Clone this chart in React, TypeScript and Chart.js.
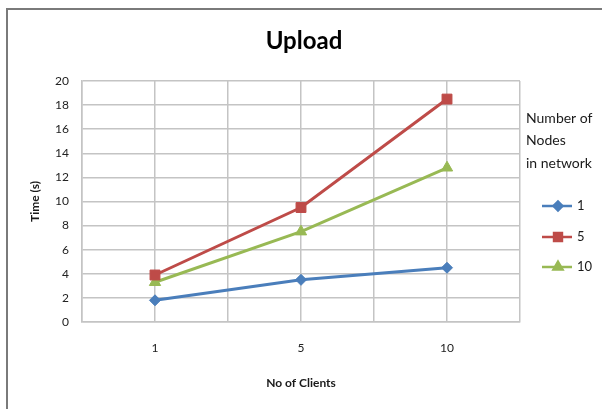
import React, { useEffect, useRef } from "react";
import { Chart, registerables } from "chart.js";
import { drawPoint } from "chart.js/helpers";

Chart.register(...registerables);

// Number of clients on the x axis
const clients = ["1", "5", "10"];

// Upload time (s) for each network size
const nodes1 = [1.8, 3.5, 4.5];
const nodes5 = [3.9, 9.5, 18.5];
const nodes10 = [3.3, 7.5, 12.8];

const seriesNames = ["1", "5", "10"];
const legendHeader = ["Number of", "Nodes", "in network"];

const FONT = "Lato, 'DejaVu Sans', sans-serif";

const toPoints = (vals: number[]) => vals.map((y, i) => ({ x: i, y }));

// Outer frame, chart title and the legend on the right
const decorations = {
  id: "decorations",
  beforeDraw(chart: any) {
    const { ctx, width, height } = chart;
    ctx.save();
    ctx.fillStyle = "#ffffff";
    ctx.fillRect(0, 0, width, height);
    ctx.strokeStyle = "#7a7a7a";
    ctx.lineWidth = 2;
    ctx.beginPath();
    ctx.moveTo(7, height + 5);
    ctx.lineTo(7, 9);
    ctx.lineTo(width + 5, 9);
    ctx.stroke();
    ctx.restore();
  },
  afterDraw(chart: any) {
    const { ctx } = chart;
    ctx.save();
    // title
    ctx.fillStyle = "#000000";
    ctx.font = `bold 24px ${FONT}`;
    ctx.textAlign = "center";
    ctx.textBaseline = "alphabetic";
    ctx.fillText("Upload", 304, 49);

    // legend header
    ctx.font = `14px ${FONT}`;
    ctx.textAlign = "left";
    ctx.textBaseline = "middle";
    ctx.fillStyle = "#1a1a1a";
    legendHeader.forEach((line, i) => ctx.fillText(line, 526, 118 + i * 22.5));

    // legend entries
    const rows = [206, 237, 267];
    chart.data.datasets.forEach((ds: any, i: number) => {
      const y = rows[i];
      ctx.strokeStyle = ds.borderColor;
      ctx.lineWidth = 2.5;
      ctx.beginPath();
      ctx.moveTo(542, y);
      ctx.lineTo(572, y);
      ctx.stroke();
      ctx.fillStyle = ds.pointBackgroundColor;
      ctx.strokeStyle = ds.pointBorderColor;
      drawPoint(
        ctx,
        { pointStyle: ds.pointStyle, radius: ds.pointRadius * 0.8, borderWidth: 1, rotation: 0 },
        558,
        y
      );
      ctx.fillStyle = "#1a1a1a";
      ctx.font = `13px ${FONT}`;
      ctx.fillText(seriesNames[i], 577, y);
    });
    ctx.restore();
  },
};

function makeDataset(label: string, vals: number[], color: string, style: string, radius: number) {
  return {
    label,
    data: toPoints(vals),
    borderColor: color,
    backgroundColor: color,
    pointBackgroundColor: color,
    pointBorderColor: color,
    pointBorderWidth: 1,
    pointStyle: style,
    pointRadius: radius,
    borderWidth: 3,
    tension: 0,
  };
}

export default function App() {
  const ref = useRef<HTMLCanvasElement | null>(null);

  useEffect(() => {
    if (!ref.current) return;
    const gridColor = "#c4c4c4";
    const chart = new Chart(ref.current, {
      type: "line",
      data: {
        datasets: [
          makeDataset(seriesNames[0], nodes1, "#4a7ebb", "rectRot", 5.5),
          makeDataset(seriesNames[1], nodes5, "#be4b48", "rect", 7),
          makeDataset(seriesNames[2], nodes10, "#98b954", "triangle", 6.5),
        ],
      },
      options: {
        animation: false,
        responsive: false,
        devicePixelRatio: 1,
        layout: { padding: { top: 81, right: 82, left: 0, bottom: 0 } },
        plugins: {
          legend: { display: false },
          title: { display: false },
          tooltip: { enabled: false },
        },
        scales: {
          x: {
            type: "linear",
            min: -0.5,
            max: 2.5,
            afterFit: (s: any) => {
              s.height = 87;
            },
            grid: { color: gridColor, lineWidth: 1.5, drawTicks: false },
            border: { color: gridColor, width: 1.5 },
            ticks: {
              stepSize: 0.5,
              autoSkip: false,
              maxRotation: 0,
              padding: 19,
              color: "#222222",
              font: { family: FONT, size: 12 },
              callback: (v: any) => (Number.isInteger(v) ? clients[v] : ""),
            },
            title: {
              display: true,
              text: "No of Clients",
              color: "#1a1a1a",
              font: { family: FONT, size: 12, weight: "bold" },
              padding: { top: 0, bottom: 19 },
            },
          },
          y: {
            min: 0,
            max: 20,
            afterFit: (s: any) => {
              s.width = 82;
            },
            grid: { color: gridColor, lineWidth: 1.5, drawTicks: false },
            border: { color: gridColor, width: 1.5 },
            ticks: {
              stepSize: 2,
              padding: 13,
              color: "#222222",
              font: { family: FONT, size: 12 },
            },
            title: {
              display: true,
              text: "Time (s)",
              color: "#1a1a1a",
              font: { family: FONT, size: 12, weight: "bold" },
              padding: { top: 28, bottom: 0 },
            },
          },
        },
      },
      plugins: [decorations],
    });
    return () => chart.destroy();
  }, []);

  return (
    <div style={{ position: "fixed", left: 0, top: 0, width: 602, height: 409 }}>
      <canvas ref={ref} width={602} height={409} />
    </div>
  );
}
